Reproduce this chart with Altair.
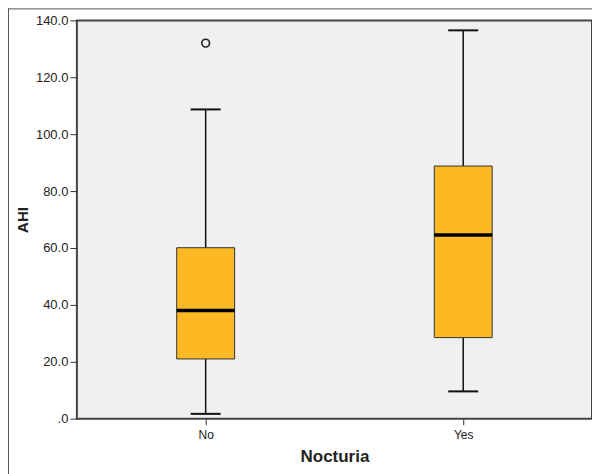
import altair as alt
import pandas as pd

categories = ["No", "Yes"]
whisker_low = [1.7, 9.6]
q1 = [21.0, 28.5]
median = [38.0, 64.6]
q3 = [60.1, 88.8]
whisker_high = [108.7, 136.5]

outlier_cat = ["No"]
outlier_val = [132.0]

df = pd.DataFrame({
    "Nocturia": categories,
    "lo": whisker_low,
    "q1": q1,
    "med": median,
    "q3": q3,
    "hi": whisker_high,
})
out_df = pd.DataFrame({"Nocturia": outlier_cat, "AHI": outlier_val})

FONT = "Liberation Sans"

x = alt.X("Nocturia:N", sort=categories,
          scale=alt.Scale(type="point", padding=0.5),
          axis=alt.Axis(title="Nocturia", labelAngle=0, labelFontSize=12,
                        labelColor="#222", titleFontSize=17, titleFontWeight="bold",
                        titleColor="#222", tickSize=6, tickColor="#333",
                        domain=False, labelPadding=5, titlePadding=8))
yscale = alt.Scale(domain=[0, 140], nice=False)
yaxis = alt.Axis(title="AHI", values=[0, 20, 40, 60, 80, 100, 120, 140],
                 labelExpr="datum.value == 0 ? '.0' : format(datum.value, '.1f')",
                 labelFontSize=13, labelColor="#222", titleFontSize=15,
                 titleFontWeight="bold", titleColor="#222", tickSize=7,
                 tickColor="#333", domain=False, grid=False, titlePadding=5)

base = alt.Chart(df)

whisk = base.mark_rule(color="#111", strokeWidth=1.5).encode(
    x=x, y=alt.Y("lo:Q", scale=yscale, axis=yaxis), y2="hi:Q")
box = base.mark_bar(size=58, color="#FDB924", stroke="#333", strokeWidth=1, opacity=1).encode(
    x=x, y=alt.Y("q1:Q", scale=yscale, axis=yaxis), y2="q3:Q")
med = base.mark_tick(size=58, thickness=3.5, color="#000", opacity=1).encode(
    x=x, y=alt.Y("med:Q", scale=yscale, axis=yaxis))
cap_lo = base.mark_tick(size=30, thickness=2, color="#111", opacity=1).encode(
    x=x, y=alt.Y("lo:Q", scale=yscale, axis=yaxis))
cap_hi = base.mark_tick(size=30, thickness=2, color="#111", opacity=1).encode(
    x=x, y=alt.Y("hi:Q", scale=yscale, axis=yaxis))
outl = alt.Chart(out_df).mark_point(shape="circle", size=60, filled=False,
                                    color="#222", strokeWidth=1.6, opacity=1).encode(
    x=x, y=alt.Y("AHI:Q", scale=yscale, axis=yaxis))

frame = alt.Chart(pd.DataFrame({"k": [0]})).mark_rule(color="#555", strokeWidth=1).encode(
    x=alt.value(-69), x2=alt.value(600), y=alt.value(-11.5))
frame_l = alt.Chart(pd.DataFrame({"k": [0]})).mark_rule(color="#555", strokeWidth=1).encode(
    x=alt.value(-68.5), y=alt.value(-12), y2=alt.value(455))

chart = alt.layer(frame, frame_l, whisk, box, med, cap_lo, cap_hi, outl).properties(
    width=516, height=399,
    autosize=alt.AutoSizeParams(type="none"),
    padding={"left": 69, "top": 12, "right": 0, "bottom": 55},
).configure(
    font=FONT, background="white",
    view=alt.ViewConfig(fill="#F0F0F0", stroke="#444", strokeWidth=2),
)

chart.save("out.html", embed_options={"renderer": "svg", "actions": False})
